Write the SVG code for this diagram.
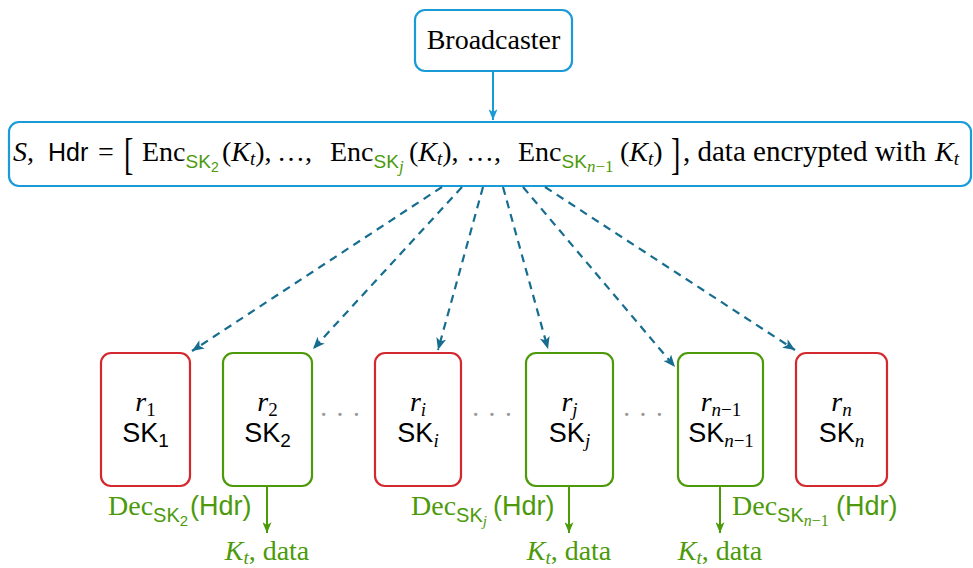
<svg xmlns="http://www.w3.org/2000/svg" width="973" height="568" viewBox="0 0 973 568">
<style>
.serif{font-family:"Liberation Serif","DejaVu Serif",serif;fill:#000}
.sans{font-family:"Liberation Sans","DejaVu Sans",sans-serif}
.it{font-style:italic}
.g{fill:#4c9a0a}
.bluebox{fill:#fff;stroke:#1a9bd7;stroke-width:2.2}
.red{fill:#fff;stroke:#d4282f;stroke-width:2.2}
.grn{fill:#fff;stroke:#4c9a0a;stroke-width:2.2}
.dash{fill:none;stroke:#166d8f;stroke-width:2.2;stroke-dasharray:8 6}
.dots{font-family:"Liberation Serif",serif;fill:#999}
</style>
<defs>
<marker id="aTeal" viewBox="0 0 12 10" refX="12" refY="5" markerWidth="13" markerHeight="10" markerUnits="userSpaceOnUse" orient="auto"><path d="M0,0 L12,5 L0,10 L3,5 Z" fill="#166d8f"/></marker>
<marker id="aBlue" viewBox="0 0 12 10" refX="12" refY="5" markerWidth="11" markerHeight="9" markerUnits="userSpaceOnUse" orient="auto"><path d="M0,0 L12,5 L0,10 L3,5 Z" fill="#1a9bd7"/></marker>
<marker id="aGreen" viewBox="0 0 12 10" refX="12" refY="5" markerWidth="11" markerHeight="9" markerUnits="userSpaceOnUse" orient="auto"><path d="M0,0 L12,5 L0,10 L3,5 Z" fill="#4c9a0a"/></marker>
</defs>

<g id="broadcaster">
<rect class="bluebox" x="415" y="10" width="157" height="61" rx="10"/>
<text class="serif" font-size="28" x="493.5" y="49" text-anchor="middle">Broadcaster</text>
</g>

<g id="header">
<rect class="bluebox" x="9" y="122" width="962" height="64" rx="10"/>
<text class="serif" font-size="28" transform="translate(124,169) scale(1,1.6)">[</text>
<text class="serif" font-size="28" transform="translate(671,169) scale(1,1.6)">]</text>
<text class="serif" font-size="28" y="161"><tspan x="13" class="it">S</tspan><tspan>,</tspan><tspan x="48" class="sans" font-size="25">Hdr</tspan><tspan x="98">=</tspan><tspan x="142">Enc</tspan><tspan class="sans g" font-size="19" y="168">SK</tspan><tspan class="sans g" font-size="14" y="172">2</tspan><tspan x="222" y="161">(</tspan><tspan class="it">K</tspan><tspan class="it" font-size="19" y="165">t</tspan><tspan y="161">),</tspan><tspan x="277">…,</tspan><tspan x="330">Enc</tspan><tspan class="sans g" font-size="19" y="168">SK</tspan><tspan class="it g" font-size="17" y="172">j</tspan><tspan x="409" y="161">(</tspan><tspan class="it">K</tspan><tspan class="it" font-size="19" y="165">t</tspan><tspan y="161">),</tspan><tspan x="466">…,</tspan><tspan x="518">Enc</tspan><tspan class="sans g" font-size="19" y="168">SK</tspan><tspan class="it g" font-size="17" y="172">n</tspan><tspan class="g" font-size="17">−1</tspan><tspan x="620" y="161">(</tspan><tspan class="it">K</tspan><tspan class="it" font-size="19" y="165">t</tspan><tspan y="161">)</tspan><tspan x="683" font-size="29">, data encrypted with </tspan><tspan x="935" class="it">K</tspan><tspan class="it" font-size="19" y="165">t</tspan></text>
</g>

<g id="r1">
<rect class="red" x="101" y="353" width="89" height="133" rx="10"/>
<text class="serif" font-size="28" x="145.5" y="411" text-anchor="middle"><tspan class="it">r</tspan><tspan font-size="19" dy="5">1</tspan></text>
<text class="sans" font-size="27" x="145.5" y="442" text-anchor="middle">SK<tspan font-size="19" dy="5">1</tspan></text>
</g>
<g id="r2">
<rect class="grn" x="223" y="353" width="89" height="133" rx="10"/>
<text class="serif" font-size="28" x="267.5" y="411" text-anchor="middle"><tspan class="it">r</tspan><tspan font-size="19" dy="5">2</tspan></text>
<text class="sans" font-size="27" x="267.5" y="442" text-anchor="middle">SK<tspan font-size="19" dy="5">2</tspan></text>
</g>
<g id="ri">
<rect class="red" x="375" y="353" width="86" height="133" rx="10"/>
<text class="serif" font-size="28" x="418" y="411" text-anchor="middle"><tspan class="it">r</tspan><tspan class="it" font-size="19" dy="5">i</tspan></text>
<text class="sans" font-size="27" x="418" y="442" text-anchor="middle">SK<tspan class="serif it" font-size="19" dy="5">i</tspan></text>
</g>
<g id="rj">
<rect class="grn" x="526" y="353" width="87" height="133" rx="10"/>
<text class="serif" font-size="28" x="569.5" y="411" text-anchor="middle"><tspan class="it">r</tspan><tspan class="it" font-size="19" dy="5">j</tspan></text>
<text class="sans" font-size="27" x="569.5" y="442" text-anchor="middle">SK<tspan class="serif it" font-size="19" dy="5">j</tspan></text>
</g>
<g id="rn1">
<rect class="grn" x="678" y="353" width="85" height="133" rx="10"/>
<text class="serif" font-size="28" x="721" y="411" text-anchor="middle"><tspan class="it">r</tspan><tspan class="it" font-size="19" dy="5">n</tspan><tspan font-size="19">−1</tspan></text>
<text class="sans" font-size="27" x="721" y="442" text-anchor="middle">SK<tspan class="serif it" font-size="19" dy="5">n</tspan><tspan class="serif" font-size="19">−1</tspan></text>
</g>
<g id="rn">
<rect class="red" x="796" y="353" width="91" height="133" rx="10"/>
<text class="serif" font-size="28" x="841.5" y="411" text-anchor="middle"><tspan class="it">r</tspan><tspan class="it" font-size="19" dy="5">n</tspan></text>
<text class="sans" font-size="27" x="841.5" y="442" text-anchor="middle">SK<tspan class="serif it" font-size="19" dy="5">n</tspan></text>
</g>

<g id="ellipses">
<text class="dots" font-size="28" x="340" y="424" text-anchor="middle">· · ·</text>
<text class="dots" font-size="28" x="492" y="424" text-anchor="middle">· · ·</text>
<text class="dots" font-size="28" x="643" y="424" text-anchor="middle">· · ·</text>
</g>

<g id="labels">
<text class="serif g" font-size="28" y="515"><tspan x="108">Dec</tspan><tspan class="sans" font-size="20" y="522">SK</tspan><tspan class="sans" font-size="15" y="526">2</tspan><tspan class="sans" font-size="27" y="515" x="190">(Hdr)</tspan></text>
<text class="serif g" font-size="28" y="515"><tspan x="411">Dec</tspan><tspan class="sans" font-size="20" y="522">SK</tspan><tspan class="it" font-size="15" y="526">j</tspan><tspan class="sans" font-size="27" y="515" x="493">(Hdr)</tspan></text>
<text class="serif g" font-size="28" y="515"><tspan x="732">Dec</tspan><tspan class="sans" font-size="20" y="522">SK</tspan><tspan class="it" font-size="16" y="526">n</tspan><tspan font-size="16">−1</tspan><tspan class="sans" font-size="27" y="515" x="836">(Hdr)</tspan></text>
<text class="serif g" font-size="28" x="267" y="560" text-anchor="middle"><tspan class="it">K</tspan><tspan class="it" font-size="19" dy="4">t</tspan><tspan dy="-4">, data</tspan></text>
<text class="serif g" font-size="28" x="569" y="560" text-anchor="middle"><tspan class="it">K</tspan><tspan class="it" font-size="19" dy="4">t</tspan><tspan dy="-4">, data</tspan></text>
<text class="serif g" font-size="28" x="720" y="560" text-anchor="middle"><tspan class="it">K</tspan><tspan class="it" font-size="19" dy="4">t</tspan><tspan dy="-4">, data</tspan></text>
</g>

<g id="connectors">
<line x1="493" y1="71" x2="493" y2="120" stroke="#1a9bd7" stroke-width="2" marker-end="url(#aBlue)"/>
<line class="dash" x1="442" y1="187" x2="192" y2="351" marker-end="url(#aTeal)"/>
<line class="dash" x1="462" y1="187" x2="313" y2="349" marker-end="url(#aTeal)"/>
<line class="dash" x1="483" y1="187" x2="438" y2="350" marker-end="url(#aTeal)"/>
<line class="dash" x1="503" y1="187" x2="548" y2="349" marker-end="url(#aTeal)"/>
<line class="dash" x1="523" y1="187" x2="675" y2="367" marker-end="url(#aTeal)"/>
<line class="dash" x1="545" y1="187" x2="795" y2="350" marker-end="url(#aTeal)"/>
<line x1="267" y1="486" x2="267" y2="533" stroke="#4c9a0a" stroke-width="2" marker-end="url(#aGreen)"/>
<line x1="569" y1="486" x2="569" y2="533" stroke="#4c9a0a" stroke-width="2" marker-end="url(#aGreen)"/>
<line x1="720" y1="486" x2="720" y2="533" stroke="#4c9a0a" stroke-width="2" marker-end="url(#aGreen)"/>
</g>
</svg>
